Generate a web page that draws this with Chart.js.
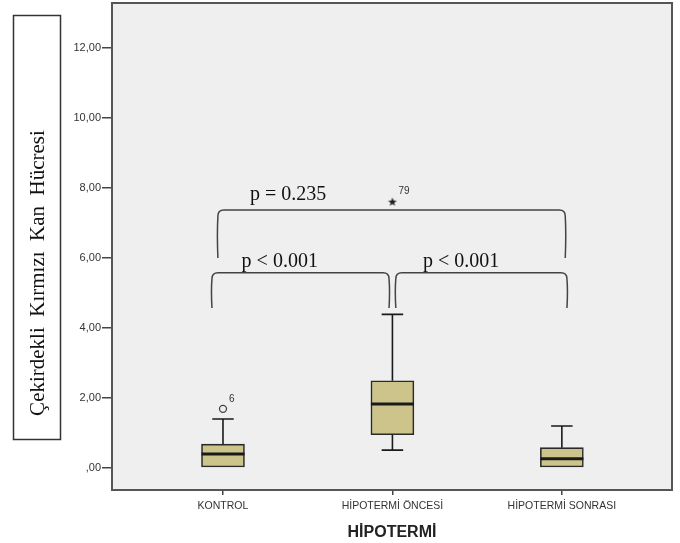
<!DOCTYPE html>
<html>
<head>
<meta charset="utf-8">
<script src="https://cdn.jsdelivr.net/npm/chart.js@4.4.1/dist/chart.umd.min.js"></script>
<style>
  html, body { margin: 0; padding: 0; background: #fff; }
  #wrap { width: 680px; height: 543px; position: relative; }
</style>
</head>
<body>
<div id="wrap"><canvas id="boxChart"></canvas></div>
<script>
// groups and box plot summaries
const categories = ['KONTROL', 'HİPOTERMİ ÖNCESİ', 'HİPOTERMİ SONRASI'];
const whiskerLow = [0.03, 0.51, 0.03];
const q1 = [0.03, 0.95, 0.03];
const median = [0.40, 1.83, 0.26];
const q3 = [0.68, 2.49, 0.58];
const whiskerHigh = [1.40, 4.39, 1.20];

// outliers: o = outlier, * = extreme
const outlierGroup = [0, 1];
const outlierValue = [1.69, 7.61];
const outlierCase = ['6', '79'];

const yTicks = [0, 2, 4, 6, 8, 10, 12];

// pairwise comparisons
const pairs = [[0, 2], [0, 1], [1, 2]];
const pValues = ['p = 0.235', 'p < 0.001', 'p < 0.001'];

const yTitle = 'Çekirdekli  Kırmızı  Kan  Hücresi';
const xTitle = 'HİPOTERMİ';

// bracket drawing layout (data units)
const bracketLayout = [
  {x1: -0.03, x2: 2.02, top: 7.37, leg: 6.0, tx: 0.16, ty: 7.66},
  {x1: -0.065, x2: 0.98, top: 5.58, leg: 4.57, tx: 0.11, ty: 5.74},
  {x1: 1.02, x2: 2.03, top: 5.58, leg: 4.57, tx: 1.18, ty: 5.74}
];

function makeStar() {
  const c = document.createElement('canvas');
  c.width = 10; c.height = 10;
  const g = c.getContext('2d');
  g.fillStyle = '#222';
  g.beginPath();
  for (let i = 0; i < 10; i++) {
    const r = i % 2 === 0 ? 4.6 : 1.9;
    const a = -Math.PI / 2 + i * Math.PI / 5;
    const px = 5 + r * Math.cos(a), py = 5.3 + r * Math.sin(a);
    if (i === 0) g.moveTo(px, py); else g.lineTo(px, py);
  }
  g.closePath();
  g.fill();
  return c;
}

const boxData = categories.map((c, i) => ({x: i, y: [q1[i], q3[i]]}));
const outlierData = outlierGroup.map((g, i) => ({x: g, y: outlierValue[i]}));

const boxPlugin = {
  id: 'boxPlugin',
  beforeDraw(chart) {
    const {ctx, chartArea: a} = chart;
    ctx.save();
    ctx.fillStyle = '#efefef';
    ctx.fillRect(a.left, a.top, a.right - a.left, a.bottom - a.top);
    ctx.restore();
  },
  afterDatasetsDraw(chart) {
    const {ctx} = chart;
    const xs = chart.scales.x, ys = chart.scales.y;
    const bars = chart.getDatasetMeta(0).data;
    ctx.save();
    ctx.strokeStyle = '#1a1a1a';
    categories.forEach((c, i) => {
      const cx = xs.getPixelForValue(i);
      const half = bars[i].width / 2;
      const cap = half / 2;
      ctx.lineWidth = 1.6;
      ctx.beginPath();
      ctx.moveTo(cx, ys.getPixelForValue(q3[i]));
      ctx.lineTo(cx, ys.getPixelForValue(whiskerHigh[i]));
      ctx.moveTo(cx - cap, ys.getPixelForValue(whiskerHigh[i]));
      ctx.lineTo(cx + cap, ys.getPixelForValue(whiskerHigh[i]));
      if (whiskerLow[i] < q1[i]) {
        ctx.moveTo(cx, ys.getPixelForValue(q1[i]));
        ctx.lineTo(cx, ys.getPixelForValue(whiskerLow[i]));
        ctx.moveTo(cx - cap, ys.getPixelForValue(whiskerLow[i]));
        ctx.lineTo(cx + cap, ys.getPixelForValue(whiskerLow[i]));
      }
      ctx.stroke();
      ctx.lineWidth = 3;
      ctx.beginPath();
      ctx.moveTo(cx - half, ys.getPixelForValue(median[i]));
      ctx.lineTo(cx + half, ys.getPixelForValue(median[i]));
      ctx.stroke();
    });

    // case numbers next to outliers
    ctx.fillStyle = '#333';
    ctx.font = '10px "Liberation Sans", Arial, sans-serif';
    ctx.textAlign = 'left';
    ctx.textBaseline = 'middle';
    outlierGroup.forEach((g, i) => {
      ctx.fillText(outlierCase[i], xs.getPixelForValue(g) + 6, ys.getPixelForValue(outlierValue[i]) - 10);
    });

    // comparison brackets
    ctx.strokeStyle = '#444';
    ctx.lineWidth = 1.5;
    ctx.fillStyle = '#111';
    ctx.font = '20px "Liberation Serif", "Times New Roman", serif';
    ctx.textBaseline = 'alphabetic';
    pairs.forEach((p, k) => {
      const b = bracketLayout[k];
      const x1 = xs.getPixelForValue(b.x1), x2 = xs.getPixelForValue(b.x2);
      const yt = ys.getPixelForValue(b.top), yl = ys.getPixelForValue(b.leg);
      const r = 6;
      ctx.beginPath();
      ctx.moveTo(x1, yl);
      ctx.quadraticCurveTo(x1 - 1, (yl + yt) / 2, x1, yt + r);
      ctx.quadraticCurveTo(x1, yt, x1 + r, yt);
      ctx.lineTo(x2 - r, yt);
      ctx.quadraticCurveTo(x2, yt, x2, yt + r);
      ctx.quadraticCurveTo(x2 + 1, (yl + yt) / 2, x2, yl);
      ctx.stroke();
      ctx.fillText(pValues[k], xs.getPixelForValue(b.tx), ys.getPixelForValue(b.ty));
    });
    ctx.restore();
  },
  afterDraw(chart) {
    const {ctx, chartArea: a} = chart;
    ctx.save();
    ctx.strokeStyle = '#555';
    ctx.lineWidth = 2;
    ctx.strokeRect(a.left, a.top, a.right - a.left, a.bottom - a.top);

    // boxed y-axis title
    ctx.strokeStyle = '#333';
    ctx.lineWidth = 1.5;
    ctx.strokeRect(13.5, 15.5, 47, 424);
    ctx.translate(38, 273);
    ctx.rotate(-Math.PI / 2);
    ctx.fillStyle = '#111';
    ctx.font = '21px "Liberation Serif", "Times New Roman", serif';
    ctx.textAlign = 'center';
    ctx.textBaseline = 'middle';
    ctx.fillText(yTitle, 0, 0);
    ctx.restore();
  }
};

new Chart(document.getElementById('boxChart'), {
  type: 'bar',
  data: {
    datasets: [
      {
        type: 'bar',
        data: boxData,
        backgroundColor: '#ccc48b',
        borderColor: '#2a2a2a',
        borderWidth: 1.6,
        borderSkipped: false,
        barThickness: 43
      },
      {
        type: 'scatter',
        data: outlierData,
        pointStyle: ['circle', makeStar()],
        pointRadius: [3.5, 5],
        backgroundColor: 'rgba(0,0,0,0)',
        borderColor: '#444',
        borderWidth: 1.3
      }
    ]
  },
  options: {
    responsive: true,
    maintainAspectRatio: false,
    animation: false,
    layout: {autoPadding: false, padding: {top: 3, right: 8, left: 0, bottom: 0}},
    plugins: {legend: {display: false}, tooltip: {enabled: false}},
    scales: {
      x: {
        type: 'linear',
        offset: false,
        min: -0.655,
        max: 2.65,
        afterBuildTicks: (s) => { s.ticks = categories.map((c, i) => ({value: i})); },
        afterFit: (s) => { s.height = 53; s.paddingLeft = 0; s.paddingRight = 0; },
        border: {display: false},
        grid: {offset: false, drawOnChartArea: false, drawTicks: true, tickLength: 5, color: '#444', lineWidth: 1.5},
        ticks: {
          callback: (v) => categories[v],
          color: '#333',
          padding: 5,
          maxRotation: 0,
          font: {family: '"Liberation Sans", Arial, sans-serif', size: 10.5}
        },
        title: {
          display: true,
          text: xTitle,
          color: '#222',
          padding: {top: 2, bottom: 1},
          font: {family: '"Liberation Sans", Arial, sans-serif', size: 16, weight: 'bold'}
        }
      },
      y: {
        min: -0.63,
        max: 13.29,
        afterBuildTicks: (s) => { s.ticks = yTicks.map(v => ({value: v})); },
        afterFit: (s) => { s.width = 112; s.paddingTop = 0; s.paddingBottom = 0; },
        border: {display: false},
        grid: {drawOnChartArea: false, drawTicks: true, tickLength: 10, color: '#444', lineWidth: 1.5},
        ticks: {
          callback: (v) => v === 0 ? ',00' : v.toFixed(2).replace('.', ','),
          color: '#333',
          padding: 1,
          font: {family: '"Liberation Sans", Arial, sans-serif', size: 11}
        }
      }
    }
  },
  plugins: [boxPlugin]
});
</script>
</body>
</html>
